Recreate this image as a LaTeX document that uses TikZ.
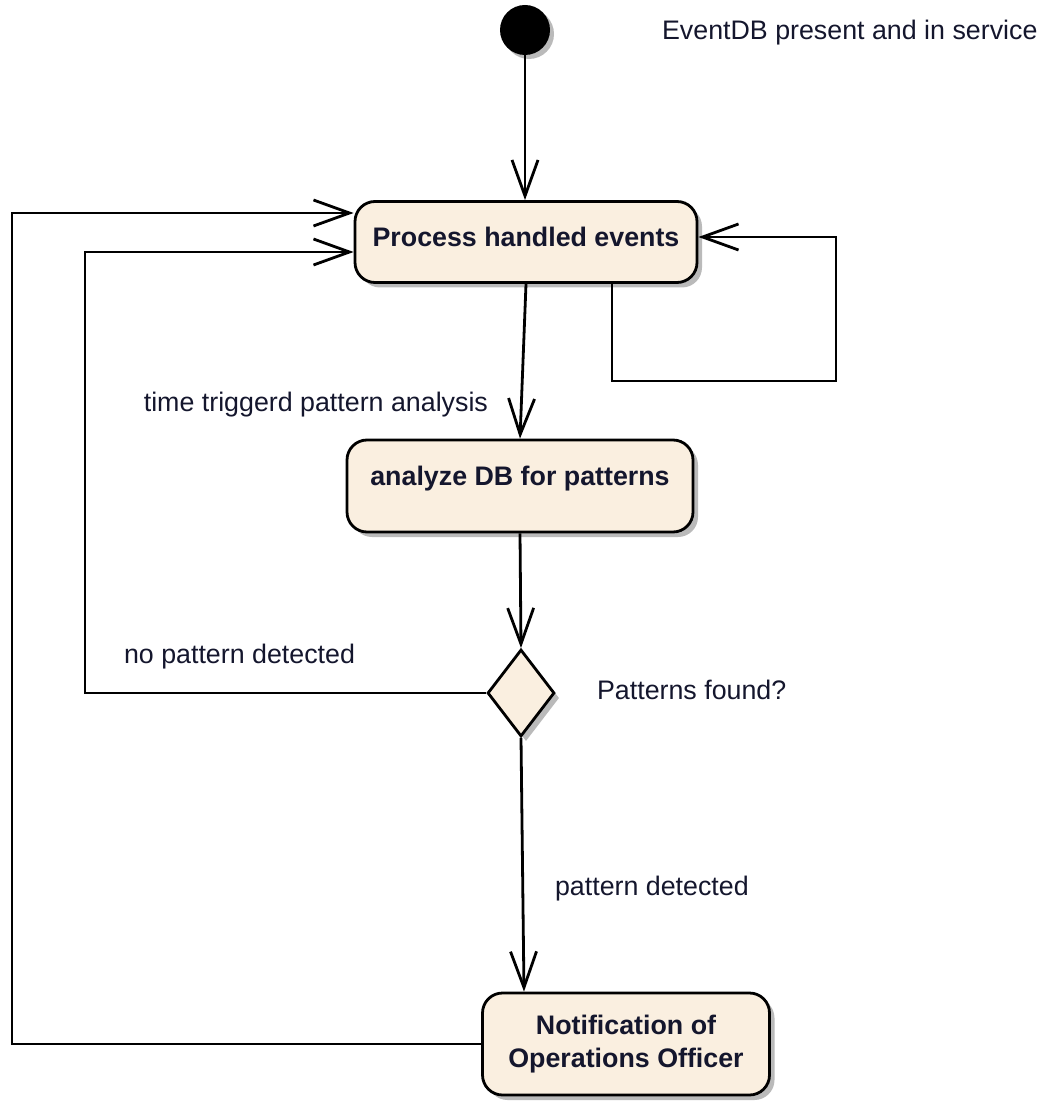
\documentclass[tikz,border=0pt]{standalone}
\usepackage{fontspec}
\setmainfont{Liberation Sans}
\usetikzlibrary{shapes.geometric,shadows,arrows.meta}

\definecolor{actfill}{RGB}{250,239,224}
\definecolor{txtcol}{RGB}{20,22,45}

\tikzset{
  action/.style={draw, line width=1.4pt, fill=actfill, rounded corners=10pt,
    font=\fontsize{13.4}{16.5}\selectfont\bfseries, text=txtcol, align=center,
    drop shadow={shadow xshift=2.5pt, shadow yshift=-2.5pt, fill=black!45, opacity=0.6}},
  flow/.style={line width=1.4pt, -{Straight Barb[length=18pt,width=13pt]}},
  guard/.style={text=txtcol, font=\fontsize{13.4}{16}\selectfont}
}

\begin{document}
\begin{tikzpicture}[x=0.5pt, y=-0.5pt]
    \useasboundingbox (0,0) rectangle (1043,1101);

    % start and the three actions
    \node[circle, fill=black, minimum size=25pt, inner sep=0pt,
      drop shadow={shadow xshift=2pt, shadow yshift=-2pt, fill=black!45, opacity=0.6}] (start) at (525,30) {};
    \node[action, minimum width=171pt, minimum height=40.5pt, text depth=5pt] (proc) at (526,242) {Process handled events};
    \node[action, minimum width=173pt, minimum height=46pt, text depth=10pt] (analyze) at (520,486) {analyze DB for patterns};
    \node[diamond, draw, line width=1.4pt, fill=actfill, minimum width=33.5pt, minimum height=43.5pt, inner sep=0pt,
      drop shadow={shadow xshift=2.5pt, shadow yshift=-2.5pt, fill=black!45, opacity=0.6}] (dec) at (521,693) {};
    \node[action, minimum width=143.5pt, minimum height=51pt] (notif) at (626,1044) {Notification of\\Operations Officer};

    % guards and notes
    \node[guard, anchor=west] (pre) at (655,33) {EventDB present and in service};
    \node[guard, anchor=east] (ltime) at (495,405) {time triggerd pattern analysis};
    \node[guard, anchor=west] (lno) at (117,657) {no pattern detected};
    \node[guard, anchor=west] (lq) at (590,690) {Patterns found?};
    \node[guard, anchor=west] (lyes) at (548,889) {pattern detected};

    % main flow
    \draw[flow] (start.south) -- (start.south |- proc.north);
    \draw[flow] (proc.south) -- (analyze.north);
    \draw[flow] (analyze.south) -- (dec.north);
    \draw[flow] (dec.south) -- ([xshift=-51pt]notif.north);

    % self loop on proc
    \draw[flow] ([xshift=43pt]proc.south) |- (836,381) |- ([yshift=2.5pt]proc.east);

    % back to proc
    \coordinate (inner) at (85,252);
    \coordinate (outer) at (12,213);
    \draw[flow] (dec.west) -| (inner) -- (inner -| proc.west);
    \draw[flow] (notif.west) -| (outer) -- (outer -| proc.west);
\end{tikzpicture}
\end{document}
